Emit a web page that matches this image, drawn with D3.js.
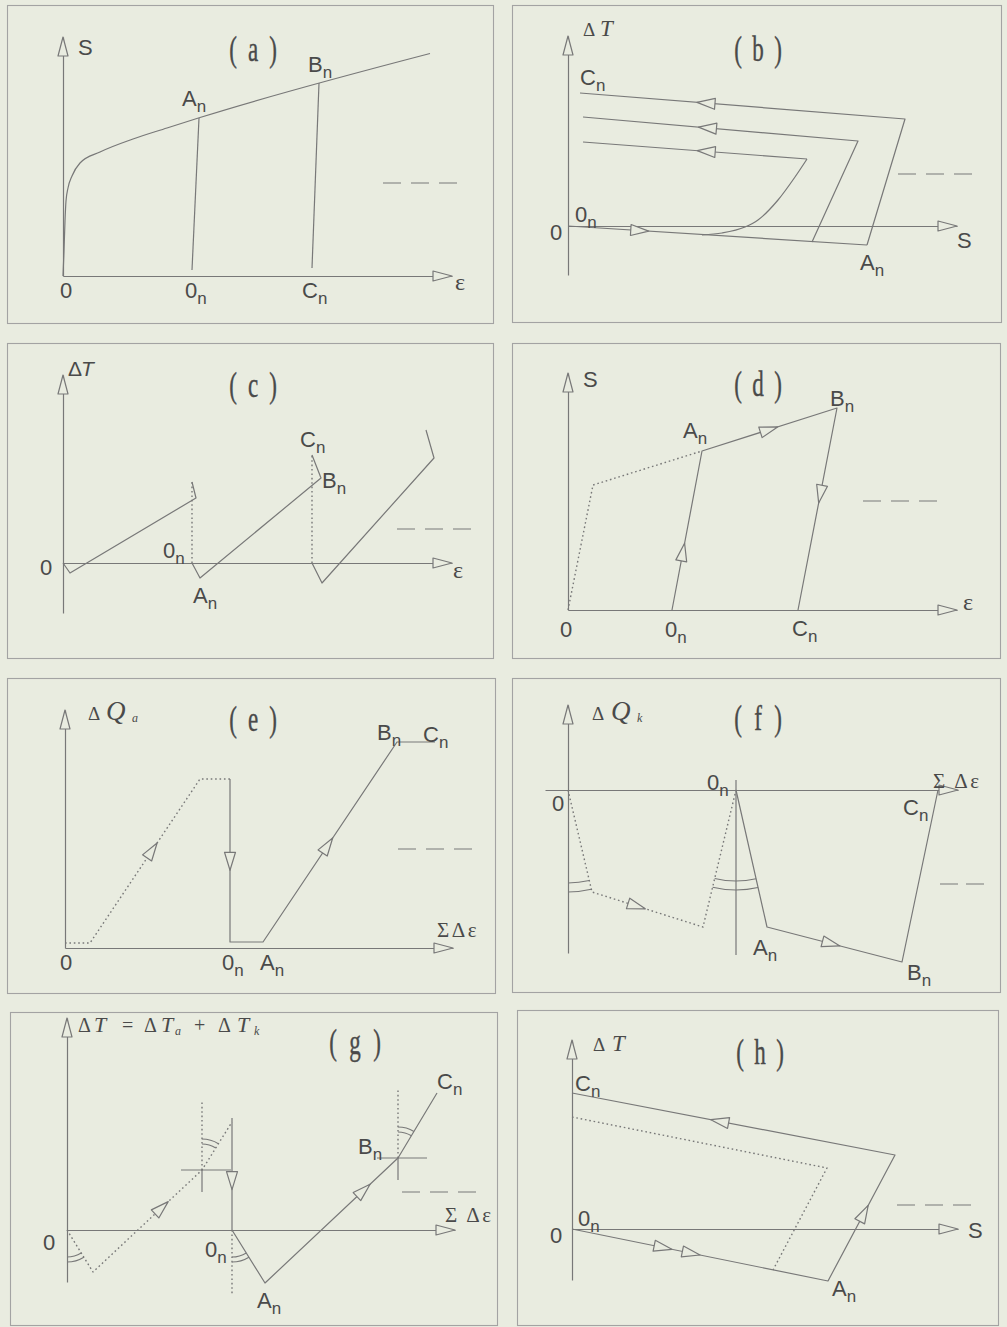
<!DOCTYPE html>
<html><head><meta charset="utf-8">
<script src="https://cdn.jsdelivr.net/npm/d3@7"></script>
<style>
html,body{margin:0;padding:0;background:#e9ece0;}
svg{display:block;}
</style></head><body>
<svg id="fig" width="1007" height="1327"></svg>
<script>
// ---------- schematic data (units along each panel's own axes, y positive upward) ----------
// (a) S–ε curve with two unloading lines
const aCurve   = [[0,0],[1,25],[2,55],[3,75],[5,88],[9,100],[17,113],[37,124],[70,137],[104,148],[137,158.5],[367,222.5]];
const aUnload1 = [[129,6],[136,158]];
const aUnload2 = [[249,8],[256,193]];
const aLabels  = [["S","",15,221],["A","n",119,170],["B","n",245,204],["0","",-3,-22],["0","n",122,-22],["C","n",239,-22],["ε","",392,-14]];

// (b) ΔT–S loops
const bLoad       = [[0,0],[299,-19]];
const bLoop1      = [[299,-19],[337,107],[12,133]];
const bLoop2      = [[244,-16],[290,85],[15,109]];
const bLoop3Curve = [[134,-9],[154,-7],[177,-1],[190,6],[210,26],[227,49],[239,67]];
const bLoop3Top   = [[239,67],[15,84]];
const bLabels     = [["C","n",12,141],["0","n",7,4],["0","",-18,-14],["S","",389,-22],["A","n",292,-44]];

// (c) ΔT–ε saw teeth
const cTooth1 = [[0,0],[7,-10],[133,65],[129,81]];
const cTooth2 = [[129,0],[137,-15],[258,85],[249,108]];
const cTooth3 = [[249,0],[259,-20],[371,105],[363,133]];
const cDrops  = [[[129,0],[129,83]],[[249,0],[249,108]]];
const cLabels = [["0","",-23,-12],["0","n",100,5],["A","n",130,-40],["C","n",237,116],["B","n",259,75],["ε","",390,-15]];

// (d) S–ε cycle
const dPrior  = [[0,0],[25,125],[134,159]];
const dCycle  = [[104,0],[134,159],[269,202],[230,0]];
const dLabels = [["S","",15,223],["A","n",115,172],["B","n",262,204],["0","",-8,-27],["0","n",97,-27],["C","n",224,-26],["ε","",395,0]];

// (e) ΔQa – ΣΔε
const ePrior  = [[0,5],[25,5],[135,169],[165,169]];
const eCycle  = [[165,169],[165,6],[198,6],[332,206],[370,206]];
const eLabels = [["0","",-5,-22],["0","n",157,-22],["A","n",195,-22],["B","n",312,208],["C","n",358,206],["ΣΔε","",372,11]];

// (f) ΔQk – ΣΔε
const fPrior  = [[0,0],[24,-102],[135,-137],[168,0]];
const fCycle  = [[168,0],[199,-137],[334,-172],[370,0]];
const fMark   = [[168,10],[168,-165]];
const fLabels = [["0","",-16,-21],["0","n",139,0],["Σ Δε","",365,2],["C","n",335,-25],["A","n",185,-165],["B","n",339,-190]];

// (g) ΔT = ΔTa + ΔTk – ΣΔε
const gPrior  = [[0,0],[26,-42],[135,60],[165,108]];
const gDrop   = [[165,112],[165,0]];
const gCycle  = [[165,0],[198,-53],[331,72],[370,137]];
const gKinks  = [[135,60],[331,72]];
const gLabels = [["0","",-24,-20],["0","n",138,-27],["A","n",190,-78],["B","n",291,76],["C","n",370,141],["Σ Δε","",378,8]];

// (h) ΔT–S cycle
const hCycle  = [[0,0],[256,-52],[323,74],[0,136]];
const hPrior  = [[0,112],[255,61],[201,-41]];
const hLabels = [["C","n",3,138],["0","n",6,3],["0","",-22,-14],["S","",396,-9],["A","n",260,-67]];

const panelTags = ["a","b","c","d","e","f","g","h"];

// ---------- drawing ----------
const BG = "#e9ece0", INK = "#787878", TXT = "#4a4a4a", FRAME = "#a3a3a3";
const SANS = "'Liberation Sans', Arial, Helvetica, sans-serif";
const SERIF = "'Liberation Serif', 'Times New Roman', serif";
const svg = d3.select("#fig");
svg.append("rect").attr("width",1007).attr("height",1327).attr("fill",BG);

function makePanel(box, origin, tagIdx, tagPos, gap) {
  const g = svg.append("g");
  g.append("rect").attr("x",box[0]+0.5).attr("y",box[1]+0.5)
    .attr("width",box[2]-box[0]).attr("height",box[3]-box[1])
    .attr("fill","none").attr("stroke",FRAME).attr("stroke-width",1.1);
  const x = d3.scaleLinear().domain([0,100]).range([origin[0], origin[0]+100]);
  const y = d3.scaleLinear().domain([0,100]).range([origin[1], origin[1]-100]);
  // panel tag like "( a )" in a tall condensed serif
  const gp = gap || 20;
  [["(",-gp],[panelTags[tagIdx],0],[")",gp]].forEach(([s,dx]) => {
    g.append("text").attr("transform",`translate(${tagPos[0]+dx},${tagPos[1]}) scale(0.64,1)`)
      .attr("text-anchor","middle").attr("font-family",SERIF).attr("font-size",36)
      .attr("stroke",TXT).attr("stroke-width",0.4)
      .attr("fill",TXT).text(s);
  });
  return {g, x, y};
}

function tri(g, tip, dir, L, W) {
  const len = Math.hypot(dir[0], dir[1]);
  const u = [dir[0]/len, dir[1]/len], n = [-u[1], u[0]];
  const bx = tip[0]-L*u[0], by = tip[1]-L*u[1];
  const p = d3.path();
  p.moveTo(tip[0], tip[1]);
  p.lineTo(bx+W*n[0], by+W*n[1]);
  p.lineTo(bx-W*n[0], by-W*n[1]);
  p.closePath();
  g.append("path").attr("d", p.toString()).attr("fill",BG).attr("stroke",INK).attr("stroke-width",1.2).attr("stroke-linejoin","round");
}

function axes(P, xr, yr, xStart) {
  const x0 = xStart === undefined ? 0 : xStart;
  const xs = d3.scaleLinear().domain([x0, xr]).range([P.x(x0), P.x(xr)]);
  const ys = d3.scaleLinear().domain(yr).range(yr.map(P.y));
  const ax = P.g.append("g").attr("transform",`translate(0,${P.y(0)})`)
    .call(d3.axisBottom(xs).tickValues([]).tickSizeOuter(0));
  const ay = P.g.append("g").attr("transform",`translate(${P.x(0)},0)`)
    .call(d3.axisLeft(ys).tickValues([]).tickSizeOuter(0));
  [ax, ay].forEach(a => a.select(".domain").attr("stroke",INK).attr("stroke-width",1.2));
  tri(P.g, [P.x(xr), P.y(0)], [1,0], 19, 5);
  tri(P.g, [P.x(0), P.y(yr[1])], [0,-1], 19, 5);
}

function path(P, pts, opt={}) {
  const gen = d3.line().x(d => P.x(d[0])).y(d => P.y(d[1]));
  if (opt.curve) gen.curve(opt.curve);
  return P.g.append("path").attr("d", gen(pts)).attr("fill","none")
    .attr("stroke",INK).attr("stroke-width", opt.dotted ? 1.4 : 1.2)
    .attr("stroke-dasharray", opt.dotted ? "1.6,2.8" : null)
    .attr("stroke-linejoin","round");
}

function arrowOn(P, a, b, t) {
  const ax = P.x(a[0]), ay = P.y(a[1]), bx = P.x(b[0]), by = P.y(b[1]);
  tri(P.g, [ax+t*(bx-ax), ay+t*(by-ay)], [bx-ax, by-ay], 18, 5.5);
}

function dashMark(P, x0, x1, yv, pattern) {
  P.g.append("line").attr("x1",P.x(x0)).attr("x2",P.x(x1)).attr("y1",P.y(yv)).attr("y2",P.y(yv))
    .attr("stroke",INK).attr("stroke-width",1.2).attr("stroke-dasharray", pattern || "18,10");
}

function angleArcs(P, v, pA, pB, radii) {
  const cx = P.x(v[0]), cy = P.y(v[1]);
  const angA = Math.atan2(P.y(pA[1])-cy, P.x(pA[0])-cx);
  const angB = Math.atan2(P.y(pB[1])-cy, P.x(pB[0])-cx);
  const cw = ((angB - angA + 4*Math.PI) % (2*Math.PI)) < Math.PI;
  radii.forEach(r => {
    const p = d3.path();
    p.arc(cx, cy, r, angA, angB, !cw);
    P.g.append("path").attr("d", p.toString()).attr("fill","none").attr("stroke",INK).attr("stroke-width",1.1);
  });
}

function labels(P, list) {
  list.forEach(([main, sub, ux, uy]) => {
    const greek = /[εΣΔ]/.test(main);
    const t = P.g.append("text").attr("x",P.x(ux)).attr("y",P.y(uy))
      .attr("font-family", greek ? SERIF : SANS).attr("font-size", greek ? (main.length > 1 ? 21 : 24) : 22)
      .attr("letter-spacing", main.length > 1 ? 2.5 : null)
      .attr("fill",TXT);
    t.append("tspan").text(main);
    if (sub) t.append("tspan").attr("font-size",17).attr("dy",6).text(sub);
  });
}

// pieces of serif axis names: [text, dx from start, size, italic, dy, family]
function axisName(P, ux, uy, parts) {
  const x0 = P.x(ux), y0 = P.y(uy);
  parts.forEach(([s, dx, size, it, dy, fam]) => {
    P.g.append("text").attr("x", x0+dx).attr("y", y0+(dy||0))
      .attr("font-family", fam || SERIF).attr("font-size", size)
      .attr("font-style", it ? "italic" : null).attr("fill",TXT).text(s);
  });
}

// (a)
const A = makePanel([7,5,493,323],[63,276],0,[253,61]);
axes(A, 389, [0,239]);
path(A, aCurve, {curve: d3.curveMonotoneX});
path(A, aUnload1); path(A, aUnload2);
dashMark(A, 320, 395, 93);
labels(A, aLabels);

// (b)
const B = makePanel([512,5,1001,322],[568,226],1,[758,61]);
axes(B, 389, [-49,190]);
path(B, bLoad); path(B, bLoop1); path(B, bLoop2);
path(B, bLoop3Curve, {curve: d3.curveMonotoneX}); path(B, bLoop3Top);
arrowOn(B, bLoop1[1], bLoop1[2], 0.64);
arrowOn(B, bLoop2[1], bLoop2[2], 0.58);
arrowOn(B, bLoop3Top[0], bLoop3Top[1], 0.49);
arrowOn(B, bLoad[0], bLoad[1], 0.27);
dashMark(B, 330, 409, 52);
labels(B, bLabels);
axisName(B, 15, 190, [["Δ",0,19],["T",17,23,true]]);

// (c)
const C = makePanel([7,343,493,658],[63,563],2,[253,397]);
axes(C, 389, [-50,188]);
path(C, cTooth1); path(C, cTooth2); path(C, cTooth3);
cDrops.forEach(d => path(C, d, {dotted:true}));
dashMark(C, 334, 410, 34);
labels(C, cLabels);
axisName(C, 5, 187, [["Δ",0,21,false,0,SANS],["T",13,21,true,0,SANS]]);

// (d)
const D = makePanel([512,343,1000,658],[568,610],3,[758,396]);
axes(D, 389, [0,237]);
path(D, dPrior, {dotted:true});
path(D, dCycle);
arrowOn(D, dCycle[0], dCycle[1], 0.42);
arrowOn(D, dCycle[1], dCycle[2], 0.56);
arrowOn(D, dCycle[2], dCycle[3], 0.47);
dashMark(D, 295, 372, 109);
labels(D, dLabels);

// (e)
const E = makePanel([7,678,495,993],[65,948],4,[253,731]);
axes(E, 388, [0,238]);
path(E, ePrior, {dotted:true});
path(E, eCycle);
arrowOn(E, ePrior[1], ePrior[2], 0.61);
arrowOn(E, eCycle[0], eCycle[1], 0.56);
arrowOn(E, eCycle[2], eCycle[3], 0.52);
dashMark(E, 333, 410, 99);
labels(E, eLabels);
axisName(E, 23, 228, [["Δ",0,19],["Q",18,27,true],["a",44,12,true,2]]);

// (f)
const F = makePanel([512,678,1000,992],[568,790],5,[758,730]);
axes(F, 390, [-163,85], -23);
path(F, fMark);
path(F, fPrior, {dotted:true});
path(F, fCycle);
arrowOn(F, fPrior[1], fPrior[2], 0.48);
arrowOn(F, fCycle[1], fCycle[2], 0.54);
angleArcs(F, fPrior[0], [0,-100], fPrior[1], [93,102]);
angleArcs(F, fCycle[0], fPrior[2], fCycle[1], [91,100]);
dashMark(F, 372, 417, -94, "18,8");
labels(F, fLabels);
axisName(F, 24, 70, [["Δ",0,19],["Q",19,27,true],["k",45,12,true,2]]);

// (g)
const G = makePanel([10,1012,497,1325],[67,1230],6,[355,1054],22);
axes(G, 388, [-52,212]);
path(G, gPrior, {dotted:true});
path(G, gDrop);
path(G, [[165,0],[165,-65]], {dotted:true});
path(G, gCycle);
gKinks.forEach(k => {
  path(G, [[k[0]-21,k[1]],[k[0]+29,k[1]]]);
  path(G, [[k[0],k[1]],[k[0],k[1]-22]]);
  path(G, [[k[0],k[1]],[k[0],k[1]+70]], {dotted:true});
});
arrowOn(G, gPrior[1], gPrior[2], 0.69);
arrowOn(G, gDrop[0], gDrop[1], 0.64);
arrowOn(G, gCycle[1], gCycle[2], 0.79);
angleArcs(G, gPrior[0], [0,-50], gPrior[1], [27,32]);
angleArcs(G, gCycle[0], [165,-50], gCycle[1], [27,32]);
angleArcs(G, gKinks[0], [135,120], gPrior[3], [26,31]);
angleArcs(G, gKinks[1], [331,130], gCycle[3], [26,31]);
dashMark(G, 335, 411, 38);
labels(G, gLabels);
axisName(G, 11, 198, [["Δ",0,20],["T",16,22,true],["=",44,20],["Δ",66,20],["T",83,22,true],["a",97,12,true,3],
  ["+",116,20],["Δ",140,20],["T",159,22,true],["k",176,12,true,3]]);

// (h)
const H = makePanel([517,1010,998,1325],[572,1229],7,[760,1064]);
axes(H, 386, [-51,189]);
path(H, hPrior, {dotted:true});
path(H, hCycle);
arrowOn(H, hCycle[0], hCycle[1], 0.39);
arrowOn(H, hCycle[0], hCycle[1], 0.50);
arrowOn(H, hCycle[1], hCycle[2], 0.60);
arrowOn(H, hCycle[2], hCycle[3], 0.57);
dashMark(H, 325, 401, 24);
labels(H, hLabels);
axisName(H, 21, 178, [["Δ",0,19],["T",19,23,true]]);
</script></body></html>
